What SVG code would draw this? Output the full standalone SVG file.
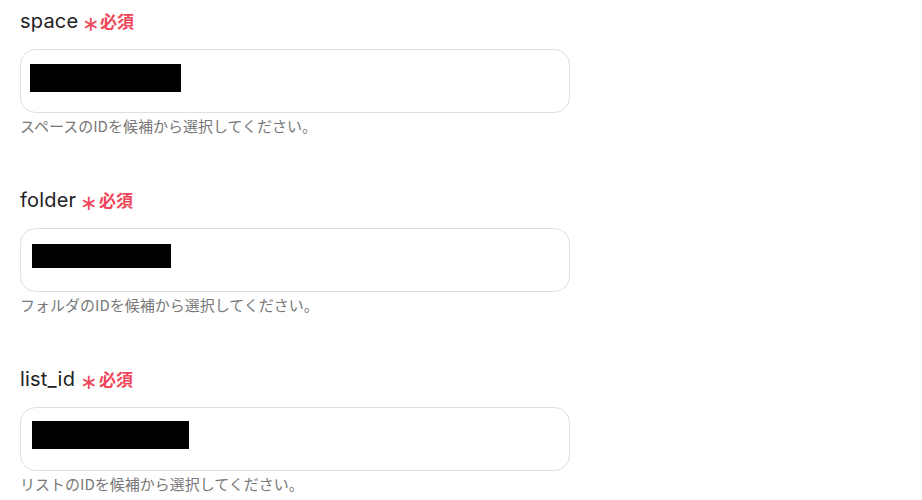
<svg xmlns="http://www.w3.org/2000/svg" width="922" height="500" viewBox="0 0 922 500">
<style>
.lbl{font-family:Inter,"Noto Sans","Noto Sans CJK JP",sans-serif;font-size:20px;letter-spacing:0.2px;fill:#222}
.ast{font-family:"DejaVu Sans",sans-serif;font-size:21px;fill:#f0465a}
.req{font-family:"Noto Sans CJK JP",sans-serif;font-size:17px;font-weight:bold;fill:#f0465a}
.box{fill:#fff;stroke:#dfdfe3;stroke-width:1}
.help{font-family:"Noto Sans CJK JP",sans-serif;font-size:15px;fill:#787878}
</style>
<rect width="922" height="500" fill="#fff"/>
<g id="field-space">
<text class="lbl" x="20" y="28">space</text>
<text class="ast" x="82" y="31">∗</text>
<text class="req" x="100" y="28">必須</text>
<rect class="box" x="20.5" y="49.5" width="549" height="63" rx="15"/>
<rect x="30" y="64" width="151" height="28" fill="#000"/>
<text class="help" x="20" y="131.5">スペースのIDを候補から選択してください。</text>
</g>
<g id="field-folder">
<text class="lbl" x="20" y="207">folder</text>
<text class="ast" x="80" y="210">∗</text>
<text class="req" x="99" y="207">必須</text>
<rect class="box" x="20.5" y="228.5" width="549" height="63" rx="15"/>
<rect x="32" y="244" width="139" height="24" fill="#000"/>
<text class="help" x="20" y="310.5">フォルダのIDを候補から選択してください。</text>
</g>
<g id="field-list_id">
<text class="lbl" x="20" y="386">list_id</text>
<text class="ast" x="80" y="389">∗</text>
<text class="req" x="99" y="386">必須</text>
<rect class="box" x="20.5" y="407.5" width="549" height="63" rx="15"/>
<rect x="32" y="421" width="157" height="28" fill="#000"/>
<text class="help" x="20" y="489.5">リストのIDを候補から選択してください。</text>
</g>
<g id="connectors"/>
</svg>
